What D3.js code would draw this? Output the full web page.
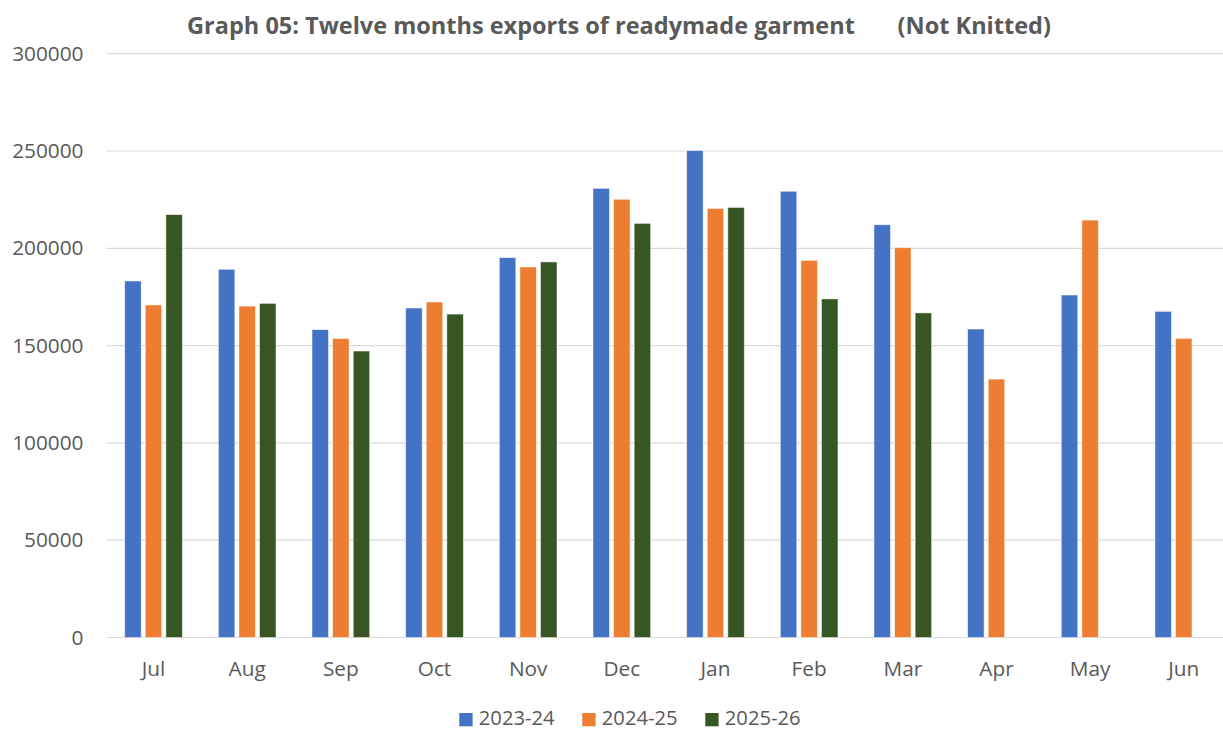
<!DOCTYPE html>
<html>
<head>
<meta charset="utf-8">
<script src="https://cdn.jsdelivr.net/npm/d3@7"></script>
<style>
  body { margin: 0; background: #fff; }
  svg { display: block; }
  svg text { font-family: "Open Sans", "Noto Sans", sans-serif; }
  .axis text { fill: #595959; font-size: 20.8px; }
  .title { fill: #595959; font-size: 23.5px; font-weight: bold; white-space: pre; }
  .legend text { fill: #595959; font-size: 20.2px; }
</style>
</head>
<body>
<div id="plot-area"></div>
<script>
const months = ["Jul", "Aug", "Sep", "Oct", "Nov", "Dec", "Jan", "Feb", "Mar", "Apr", "May", "Jun"];
const seriesNames = ["2023-24", "2024-25", "2025-26"];
const seriesColors = ["#4472C4", "#ED7D31", "#375623"];

// values, null = no data yet
const fy2023 = [183200, 189200, 158200, 169300, 195200, 230800, 250200, 229300, 212100, 158500, 176000, 167600];
const fy2024 = [170900, 170300, 153600, 172400, 190400, 225200, 220500, 193800, 200300, 132800, 214500, 153700];
const fy2025 = [217300, 171700, 147200, 166200, 193000, 212800, 221000, 174000, 166800, null, null, null];

const yTicks = [0, 50000, 100000, 150000, 200000, 250000, 300000];
const chartTitle = "Graph 05: Twelve months exports of readymade garment       (Not Knitted)";

const width = 1223, height = 731;
const plot = {left: 106.7, right: 1230.6, top: 53.7, bottom: 637.5};

const allSeries = [fy2023, fy2024, fy2025];

const svg = d3.select("#plot-area").append("svg")
    .attr("width", width)
    .attr("height", height);

const x0 = d3.scaleBand().domain(months).range([plot.left, plot.right]).padding(0);
const groupPad = 18;
const x1 = d3.scaleBand().domain(seriesNames)
    .range([groupPad, x0.bandwidth() - groupPad])
    .paddingInner(0.2).paddingOuter(0);
const y = d3.scaleLinear().domain([0, 300000]).range([plot.bottom, plot.top]);

// gridlines
svg.append("g")
    .selectAll("line")
    .data(yTicks)
    .join("line")
    .attr("x1", plot.left)
    .attr("x2", width)
    .attr("y1", d => y(d))
    .attr("y2", d => y(d))
    .attr("stroke", "#d9d9d9")
    .attr("stroke-width", 1.2);

// y axis labels
const yAxis = d3.axisLeft(y).tickValues(yTicks).tickSize(0).tickPadding(0).tickFormat(d3.format("d"));
svg.append("g")
    .attr("class", "axis")
    .attr("transform", "translate(83.5,0)")
    .call(yAxis)
    .call(g => g.select(".domain").remove());

// x axis labels
const xAxis = d3.axisBottom(x0).tickSize(0).tickPadding(0);
svg.append("g")
    .attr("class", "axis")
    .attr("transform", "translate(0," + (plot.bottom + 24) + ")")
    .call(xAxis)
    .call(g => g.select(".domain").remove());

// bars
const barData = [];
months.forEach(function (m, i) {
    seriesNames.forEach(function (s, j) {
        const v = allSeries[j][i];
        if (v !== null) barData.push({month: m, series: s, value: v, color: seriesColors[j]});
    });
});

svg.append("g")
    .selectAll("rect")
    .data(barData)
    .join("rect")
    .attr("x", d => x0(d.month) + x1(d.series))
    .attr("y", d => y(d.value))
    .attr("width", x1.bandwidth())
    .attr("height", d => y(0) - y(d.value))
    .attr("fill", d => d.color)
    .attr("stroke", "#ffffff")
    .attr("stroke-opacity", 0.6)
    .attr("stroke-width", 0.8);

// title
svg.append("text")
    .attr("class", "title")
    .attr("x", 619)
    .attr("y", 34)
    .attr("text-anchor", "middle")
    .text(chartTitle);

// legend
const legend = svg.append("g").attr("class", "legend");
const legendItems = legend.selectAll("g")
    .data(seriesNames)
    .join("g")
    .attr("transform", (d, i) => "translate(" + (459.3 + i * 123) + ",713)");

legendItems.append("rect")
    .attr("width", 13.3)
    .attr("height", 13.3)
    .attr("fill", (d, i) => seriesColors[i]);

legendItems.append("text")
    .attr("x", 19.5)
    .attr("y", 12.3)
    .text(d => d);
</script>
</body>
</html>
